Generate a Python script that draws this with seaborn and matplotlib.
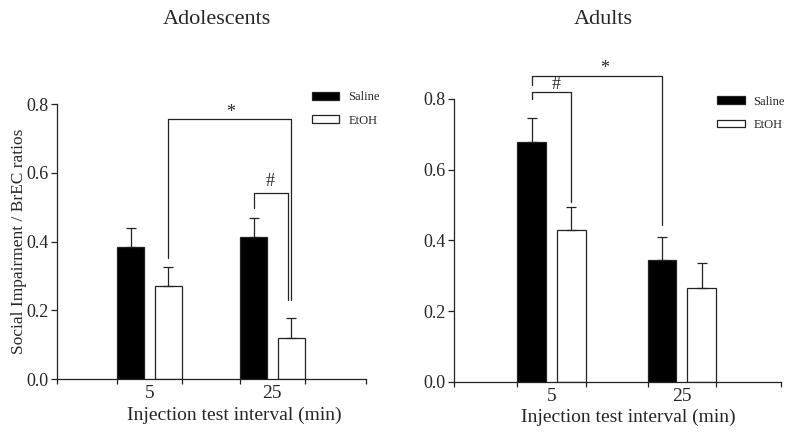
import matplotlib
matplotlib.use("Agg")
import matplotlib.pyplot as plt
import seaborn as sns
import pandas as pd
from matplotlib.patches import Patch

# data
intervals = ["5", "25"]
groups = ["Saline", "EtOH"]
adolescent_means = {"Saline": [0.385, 0.414], "EtOH": [0.272, 0.120]}
adolescent_sem = {"Saline": [0.055, 0.054], "EtOH": [0.055, 0.057]}
adult_means = {"Saline": [0.679, 0.346], "EtOH": [0.429, 0.267]}
adult_sem = {"Saline": [0.068, 0.063], "EtOH": [0.066, 0.069]}

# significance brackets: (bar a, bar b, y end a, y top, y end b, label, label x, label y)
# bars indexed as (group, interval)
adolescent_brackets = [
    (("EtOH", 0), ("EtOH", 1), 0.351, 0.757, 0.23, "*", 0.657, 0.775),
    (("Saline", 1), ("EtOH", 1), 0.497, 0.54, 0.23, "#", 0.984, 0.575),
]
adult_brackets = [
    (("Saline", 0), ("Saline", 1), 0.84, 0.865, 0.444, "*", 0.405, 0.885),
    (("Saline", 0), ("EtOH", 0), 0.799, 0.819, 0.51, "#", 0.036, 0.84),
]

palette = {"Saline": "black", "EtOH": "white"}
serif = ["Liberation Serif", "DejaVu Serif"]


def to_frame(means):
    rows = []
    for g in groups:
        for i, iv in enumerate(intervals):
            rows.append({"interval": iv, "group": g, "value": means[g][i]})
    return pd.DataFrame(rows)


def draw_panel(ax, means, sems, brackets, hash_offset=0.0):
    df = to_frame(means)
    sns.barplot(data=df, x="interval", y="value", hue="group", order=intervals,
                hue_order=groups, palette=palette, edgecolor="#222222",
                linewidth=0.9, width=0.61, gap=0.28, errorbar=None,
                legend=False, ax=ax)
    # bar centres from the drawn patches
    centres = {}
    bars = [p for p in ax.patches if p.get_width() > 0]
    k = 0
    for g in groups:
        for i in range(len(intervals)):
            p = bars[k]
            centres[(g, i)] = p.get_x() + p.get_width() / 2
            k += 1
    for g in groups:
        xs = [centres[(g, i)] for i in range(len(intervals))]
        ax.errorbar(xs, means[g], yerr=[[0] * len(xs), sems[g]], fmt="none",
                    ecolor="#222222", elinewidth=0.9, capsize=3.5,
                    capthick=0.9)
    for a, b, ya, ytop, yb, lab, lx, ly in brackets:
        xa = centres[a]
        xb = centres[b]
        if lab == "#" and hash_offset:
            xb += hash_offset
        ax.plot([xa, xa, xb, xb], [ya, ytop, ytop, yb], color="#222222",
                lw=0.9, clip_on=False)
        ax.text(lx, ly, lab, ha="center", va="center", fontsize=13,
                family=serif, clip_on=False)

    ax.set_xlim(-0.75, 1.76)
    ax.set_ylim(0, 0.8)
    ax.set_yticks([0.0, 0.2, 0.4, 0.6, 0.8])
    ax.set_yticklabels(["0.0", "0.2", "0.4", "0.6", "0.8"], family=serif,
                       fontsize=13)
    ax.set_xticks([0, 1])
    ax.set_xticklabels(intervals, family=serif, fontsize=14)
    edges = [-0.75, 1.76]
    for i in range(len(intervals)):
        edges.append(centres[("Saline", i)] - 0.11)
        edges.append(centres[("EtOH", i)] + 0.11)
    ax.set_xticks(edges, minor=True)
    ax.tick_params(axis="x", which="major", length=0, pad=4, bottom=True)
    ax.tick_params(axis="x", which="minor", length=3.5, width=0.9,
                   color="#222222", bottom=True)
    ax.tick_params(axis="y", length=4, width=0.9, color="#222222", pad=2,
                   left=True)
    sns.despine(ax=ax)
    for s in ["left", "bottom"]:
        ax.spines[s].set_color("#222222")
        ax.spines[s].set_linewidth(0.9)
    ax.set_xlabel("Injection test interval (min)", family=serif, fontsize=14)
    ax.set_ylabel("")


sns.set_style("white")
fig = plt.figure(figsize=(7.88, 4.33), dpi=100)
ax1 = fig.add_axes([0.0723, 0.1247, 0.392, 0.635])
ax2 = fig.add_axes([0.576, 0.1178, 0.415, 0.6536])

draw_panel(ax1, adolescent_means, adolescent_sem, adolescent_brackets,
           hash_offset=-0.022)
draw_panel(ax2, adult_means, adult_sem, adult_brackets)

ax1.set_ylabel("Social Impairment / BrEC ratios", family=serif, fontsize=12.5)
ax1.yaxis.set_label_coords(-0.097, 0.5)
ax1.xaxis.set_label_coords(0.573, -0.1)
ax2.xaxis.set_label_coords(0.532, -0.095)

handles = [Patch(facecolor=palette[g], edgecolor="#222222", lw=0.9, label=g)
           for g in groups]
for ax, anchor in [(ax1, (0.496, 0.815)), (ax2, (1.01, 0.805))]:
    fig.legend(handles=handles, loc="upper right", bbox_to_anchor=anchor,
               frameon=False, prop={"family": serif, "size": 9},
               handlelength=2.2, handleheight=0.55, handletextpad=0.7,
               labelspacing=0.9)

fig.text(0.275, 0.955, "Adolescents", ha="center", va="center",
         family=serif, fontsize=16)
fig.text(0.765, 0.955, "Adults", ha="center", va="center",
         family=serif, fontsize=16)

fig.savefig("out.png", dpi=100)
